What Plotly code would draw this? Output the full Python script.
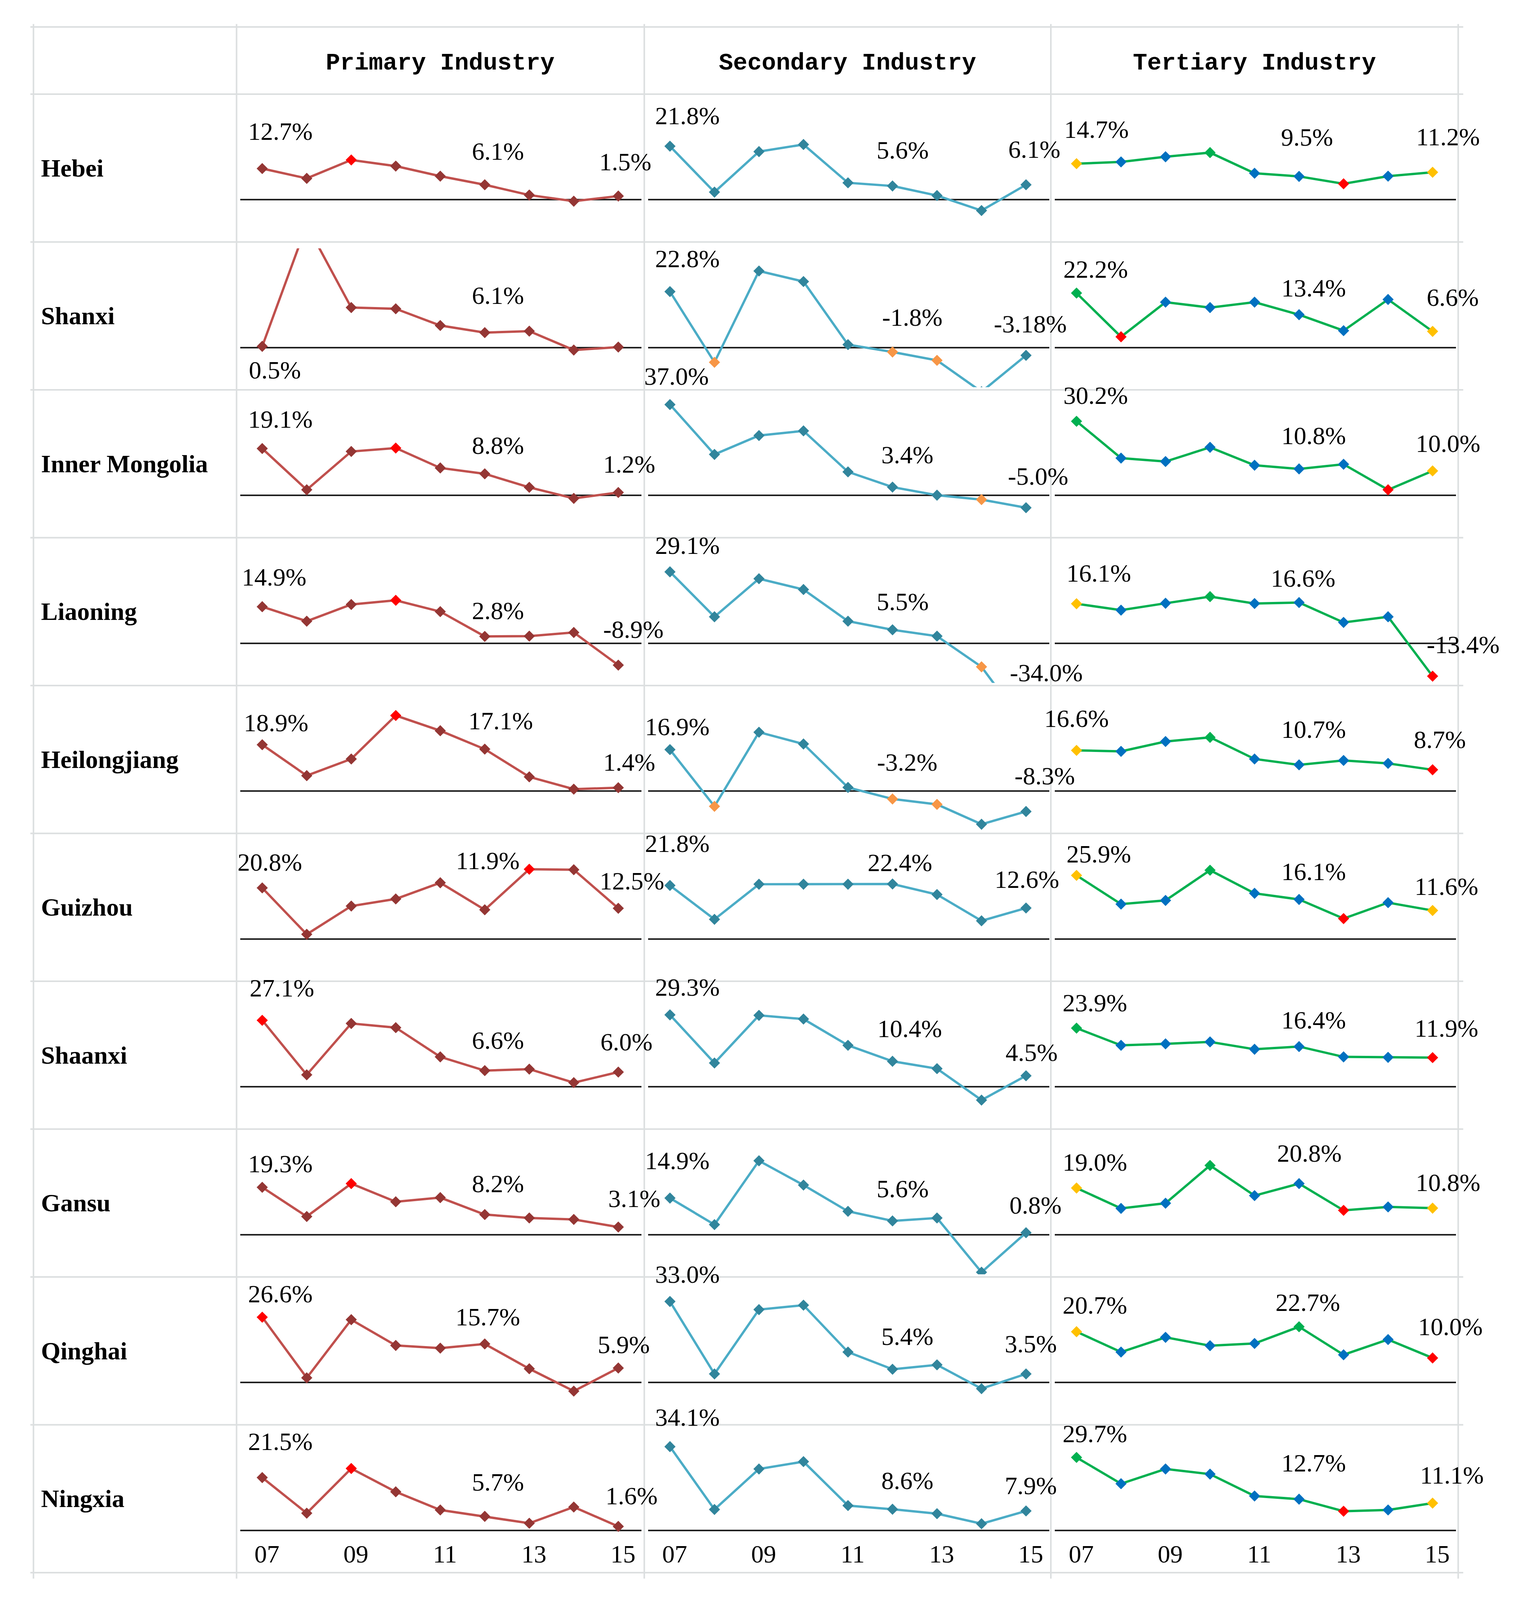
import plotly.graph_objects as go

# ---------------- data ----------------
YEARS = [2007, 2008, 2009, 2010, 2011, 2012, 2013, 2014, 2015]
PROVINCES = ["Hebei", "Shanxi", "Inner Mongolia", "Liaoning", "Heilongjiang",
             "Guizhou", "Shaanxi", "Gansu", "Qinghai", "Ningxia"]
INDUSTRIES = ["Primary Industry", "Secondary Industry", "Tertiary Industry"]
TICK_YEARS = [2007, 2009, 2011, 2013, 2015]
TICK_TEXT = ["07", "09", "11", "13", "15"]

PRIMARY_HEBEI = [12.7, 8.7, 16.2, 13.7, 9.6, 6.1, 1.9, -0.6, 1.5]
PRIMARY_SHANXI = [0.5, 50.0, 16.3, 15.8, 9.0, 6.1, 6.7, -1.0, 0.2]
PRIMARY_INNER_MONGOLIA = [19.1, 2.3, 17.9, 19.3, 11.2, 8.8, 3.3, -1.2, 1.2]
PRIMARY_LIAONING = [14.9, 9.0, 15.8, 17.5, 12.9, 2.8, 2.9, 4.4, -8.9]
PRIMARY_HEILONGJIANG = [18.9, 6.3, 13.1, 30.8, 24.6, 17.1, 5.8, 0.8, 1.4]
PRIMARY_GUIZHOU = [20.8, 1.9, 13.4, 16.3, 22.9, 11.9, 28.4, 28.2, 12.5]
PRIMARY_SHAANXI = [27.1, 4.9, 25.8, 24.1, 12.2, 6.6, 7.2, 1.7, 6.0]
PRIMARY_GANSU = [19.3, 7.4, 20.8, 13.4, 15.1, 8.2, 6.8, 6.2, 3.1]
PRIMARY_QINGHAI = [26.6, 1.9, 25.6, 15.1, 14.0, 15.7, 5.6, -3.5, 5.9]
PRIMARY_NINGXIA = [21.5, 7.0, 25.2, 15.7, 8.3, 5.7, 2.9, 9.5, 1.6]

SECONDARY_HEBEI = [21.8, 3.1, 19.6, 22.5, 6.9, 5.6, 1.7, -4.4, 6.1]
SECONDARY_SHANXI = [22.8, -6.0, 31.2, 26.9, 1.2, -1.8, -5.2, -18.0, -3.18]
SECONDARY_INNER_MONGOLIA = [37.0, 16.7, 24.4, 26.3, 9.6, 3.4, 0.1, -1.7, -5.0]
SECONDARY_LIAONING = [29.1, 10.8, 26.3, 21.9, 9.0, 5.5, 2.9, -9.6, -34.0]
SECONDARY_HEILONGJIANG = [16.9, -6.2, 24.0, 19.2, 1.5, -3.2, -5.4, -13.5, -8.3]
SECONDARY_GUIZHOU = [21.8, 8.0, 22.3, 22.3, 22.3, 22.4, 18.1, 7.4, 12.6]
SECONDARY_SHAANXI = [29.3, 9.7, 29.1, 27.6, 16.9, 10.4, 7.4, -5.4, 4.5]
SECONDARY_GANSU = [14.9, 4.1, 30.1, 20.2, 9.5, 5.6, 6.8, -15.3, 0.8]
SECONDARY_QINGHAI = [33.0, 3.5, 29.7, 31.5, 12.4, 5.4, 7.2, -2.5, 3.5]
SECONDARY_NINGXIA = [34.1, 8.5, 25.0, 28.0, 10.1, 8.6, 6.8, 2.7, 7.9]

TERTIARY_HEBEI = [14.7, 15.4, 17.5, 19.2, 10.8, 9.5, 6.5, 9.6, 11.2]
TERTIARY_SHANXI = [22.2, 4.4, 18.5, 16.3, 18.5, 13.4, 6.9, 19.6, 6.6]
TERTIARY_INNER_MONGOLIA = [30.2, 15.2, 13.8, 19.6, 12.3, 10.8, 12.7, 2.3, 10.0]
TERTIARY_LIAONING = [16.1, 13.5, 16.3, 19.0, 16.2, 16.6, 8.5, 10.8, -13.4]
TERTIARY_HEILONGJIANG = [16.6, 16.2, 20.2, 21.9, 13.1, 10.7, 12.5, 11.3, 8.7]
TERTIARY_GUIZHOU = [25.9, 14.2, 15.7, 28.0, 18.6, 16.1, 8.3, 14.8, 11.6]
TERTIARY_SHAANXI = [23.9, 16.9, 17.5, 18.3, 15.3, 16.4, 12.2, 12.0, 11.9]
TERTIARY_GANSU = [19.0, 10.7, 12.8, 28.2, 15.9, 20.8, 9.9, 11.3, 10.8]
TERTIARY_QINGHAI = [20.7, 12.4, 18.4, 15.0, 15.9, 22.7, 11.3, 17.5, 10.0]
TERTIARY_NINGXIA = [29.7, 19.0, 25.0, 22.9, 14.0, 12.7, 7.8, 8.3, 11.1]

PRIMARY = [PRIMARY_HEBEI, PRIMARY_SHANXI, PRIMARY_INNER_MONGOLIA, PRIMARY_LIAONING,
           PRIMARY_HEILONGJIANG, PRIMARY_GUIZHOU, PRIMARY_SHAANXI, PRIMARY_GANSU,
           PRIMARY_QINGHAI, PRIMARY_NINGXIA]
SECONDARY = [SECONDARY_HEBEI, SECONDARY_SHANXI, SECONDARY_INNER_MONGOLIA, SECONDARY_LIAONING,
             SECONDARY_HEILONGJIANG, SECONDARY_GUIZHOU, SECONDARY_SHAANXI, SECONDARY_GANSU,
             SECONDARY_QINGHAI, SECONDARY_NINGXIA]
TERTIARY = [TERTIARY_HEBEI, TERTIARY_SHANXI, TERTIARY_INNER_MONGOLIA, TERTIARY_LIAONING,
            TERTIARY_HEILONGJIANG, TERTIARY_GUIZHOU, TERTIARY_SHAANXI, TERTIARY_GANSU,
            TERTIARY_QINGHAI, TERTIARY_NINGXIA]
SERIES = [PRIMARY, SECONDARY, TERTIARY]

# indices of labelled points: first, 2012, last
LABEL_IDX = [0, 5, 8]

# ---------------- label placement (pixel offsets from the point: dx right, dy down) ----------------
OFF_PRIMARY = [
    [(46, -95), (34, -85), (18, -87)],
    [(32, 61), (34, -95), None],
    [(46, -75), (34, -72), (28, -72)],
    [(30, -76), (34, -66), (39, -91)],
    [(35, -56), (41, -72), (28, -65)],
    [(19, -66), (8, -125), (35, -70)],
    [(50, -82), (34, -77), (21, -77)],
    [(46, -60), (34, -79), (41, -73)],
    [(46, -60), (8, -69), (14, -60)],
    [(46, -92), (34, -87), (34, -78)],
]
OFF_SECONDARY = [
    [(45, -78), (26, -92), (21, -90)],
    [(45, -84), (51, -89), (11, -80)],
    [(17, -72), (38, -82), (31, -80)],
    [(45, -67), (26, -72), (52, -143)],
    [(19, -59), (38, -94), (48, -91)],
    [(19, -107), (19, -54), (2, -73)],
    [(45, -71), (44, -83), (14, -59)],
    [(19, -96), (26, -82), (24, -70)],
    [(45, -69), (38, -84), (12, -77)],
    [(45, -75), (38, -73), (12, -65)],
]
OFF_TERTIARY = [
    [(51, -87), (20, -100), (39, -90)],
    [(49, -61), (37, -68), (51, -87)],
    [(49, -66), (37, -85), (39, -70)],
    [(57, -78), (10, -62), (78, -80)],
    [(0, -81), (37, -91), (18, -77)],
    [(57, -54), (37, -71), (35, -61)],
    [(47, -65), (37, -68), (35, -75)],
    [(47, -66), (26, -78), (39, -65)],
    [(47, -68), (22, -62), (45, -80)],
    [(47, -61), (37, -92), (49, -71)],
]
OFFSETS = [OFF_PRIMARY, OFF_SECONDARY, OFF_TERTIARY]

# ---------------- styles ----------------
LINE_COLORS = ["#C0504D", "#4BACC6", "#00B050"]
MARKER_COLORS = ["#943634", "#31859C", "#0070C0"]
HIGH_RED = "#FF0000"
NEG_ORANGE = "#F79646"
FIRST_LAST_YELLOW = "#FFC000"
HIGH_GREEN = "#00B050"
LOW_RED = "#FF0000"

GRID_COLOR = "#DCDFE0"
VALUE_FONT = dict(family="Liberation Serif", size=64, color="#000000")
ROW_FONT = dict(family="Liberation Serif", size=64, color="#000000")
HEAD_FONT = dict(family="Liberation Mono", size=61, color="#000000")

# reference frame (pixels of the reference image)
W, H = 3896, 4272
COL_EDGES = [78, 600, 1648, 2693, 3740]
COL_LEFT = COL_EDGES[1:4]
HEAD_TOP = 64
ROW_TOP0 = 244
ROW_H = 396.3
BASE_OFF = 283      # baseline distance below row top (px)
PPU = 6.58          # px per percentage point
PAD_TOP, PAD_BOT = 17, 7
X_IN_L, X_IN_R = 10, 1041
X07 = 66
PPX = 114.4

YMAX = (BASE_OFF - PAD_TOP) / PPU
YMIN = -(ROW_H - PAD_BOT - BASE_OFF) / PPU
XMIN = 2007 - (X07 - X_IN_L) / PPX
XMAX = 2007 + (X_IN_R - X07) / PPX


def py(y_px):
    return 1 - y_px / H


def marker_colors(ind, vals):
    n = len(vals)
    vmax, vmin = max(vals), min(vals)
    cols = [MARKER_COLORS[ind]] * n
    if ind == 0:
        cols[vals.index(vmax)] = HIGH_RED
    elif ind == 1:
        imin = vals.index(vmin)
        for i, v in enumerate(vals):
            if v < 0 and i != imin and i != n - 1:
                cols[i] = NEG_ORANGE
    else:
        cols[0] = FIRST_LAST_YELLOW
        cols[-1] = FIRST_LAST_YELLOW
        cols[vals.index(vmax)] = HIGH_GREEN
        cols[vals.index(vmin)] = LOW_RED
    return cols


def fmt(v):
    if abs(round(v, 1) - v) > 1e-9:
        return f"{v:.2f}%"
    return f"{v:.1f}%"


fig = go.Figure()
annotations = []
shapes = []
layout_axes = {}

for r, prov in enumerate(PROVINCES):
    row_top = ROW_TOP0 + r * ROW_H
    for c in range(3):
        idx = r * 3 + c + 1
        xname = "xaxis" if idx == 1 else f"xaxis{idx}"
        yname = "yaxis" if idx == 1 else f"yaxis{idx}"
        xref = "x" if idx == 1 else f"x{idx}"
        yref = "y" if idx == 1 else f"y{idx}"
        vals = SERIES[c][r]

        fig.add_trace(go.Scatter(
            x=YEARS, y=vals, mode="lines+markers",
            line=dict(color=LINE_COLORS[c], width=6),
            marker=dict(symbol="diamond", size=22, color=marker_colors(c, vals),
                        line=dict(width=0)),
            xaxis=xref, yaxis=yref, showlegend=False, hoverinfo="skip",
        ))

        xdom = [(COL_LEFT[c] + X_IN_L) / W, (COL_LEFT[c] + X_IN_R) / W]
        ydom = [py(row_top + ROW_H - PAD_BOT), py(row_top + PAD_TOP)]
        xa = dict(domain=xdom, range=[XMIN, XMAX], showgrid=False, zeroline=False,
                  showline=False, showticklabels=False, ticks="", fixedrange=True,
                  anchor=yref)
        if r == len(PROVINCES) - 1:
            xa.update(showticklabels=True, tickvals=TICK_YEARS, ticktext=TICK_TEXT,
                      tickfont=VALUE_FONT, anchor="free", position=py(4112),
                      ticklabelshift=12)
        ya = dict(domain=ydom, range=[YMIN, YMAX], showgrid=False, zeroline=True,
                  zerolinecolor="#202020", zerolinewidth=4, showline=False,
                  showticklabels=False, ticks="", fixedrange=True, anchor=xref)
        layout_axes[xname] = xa
        layout_axes[yname] = ya

        # value labels
        for k, i in enumerate(LABEL_IDX):
            off = OFFSETS[c][r][k]
            if off is None:
                continue
            dx, dy = off
            v = vals[i]
            lo, hi = YMIN + 0.01, YMAX - 0.01
            anchor_v = min(max(v, lo), hi)
            annotations.append(dict(
                x=YEARS[i], y=anchor_v, xref=xref, yref=yref,
                text=fmt(v), showarrow=False, font=VALUE_FONT,
                xanchor="center", yanchor="middle",
                xshift=dx, yshift=(v - anchor_v) * PPU - dy,
            ))

    # row label
    annotations.append(dict(
        x=95 / W, y=py(row_top + ROW_H / 2), xref="paper", yref="paper",
        text=f"<b>{prov}</b>", showarrow=False, font=ROW_FONT,
        xanchor="left", yanchor="middle",
    ))

# headers
for c, name in enumerate(INDUSTRIES):
    cx = (COL_EDGES[c + 1] + COL_EDGES[c + 2]) / 2
    annotations.append(dict(
        x=cx / W, y=py(161), xref="paper", yref="paper",
        text=f"<b>{name}</b>", showarrow=False, font=HEAD_FONT,
        xanchor="center", yanchor="middle",
    ))

# table grid
h_lines = [HEAD_TOP, ROW_TOP0] + [ROW_TOP0 + ROW_H * i for i in range(1, 11)]
for yv in h_lines:
    shapes.append(dict(type="line", xref="paper", yref="paper",
                       x0=70 / W, x1=3753 / W, y0=py(yv), y1=py(yv),
                       line=dict(color=GRID_COLOR, width=4), layer="below"))
for xv in COL_EDGES:
    shapes.append(dict(type="line", xref="paper", yref="paper",
                       x0=xv / W, x1=xv / W, y0=py(56), y1=py(4223),
                       line=dict(color=GRID_COLOR, width=4), layer="below"))

# The figure fills the visible window so that nothing falls below its bottom edge.
fig.update_layout(
    autosize=True,
    margin=dict(l=0, r=0, t=0, b=0),
    paper_bgcolor="white", plot_bgcolor="rgba(0,0,0,0)",
    annotations=annotations, shapes=shapes,
    showlegend=False,
    **layout_axes,
)

fig.write_html("out.html", default_width="100%", default_height="calc(100vh - 16px)")
